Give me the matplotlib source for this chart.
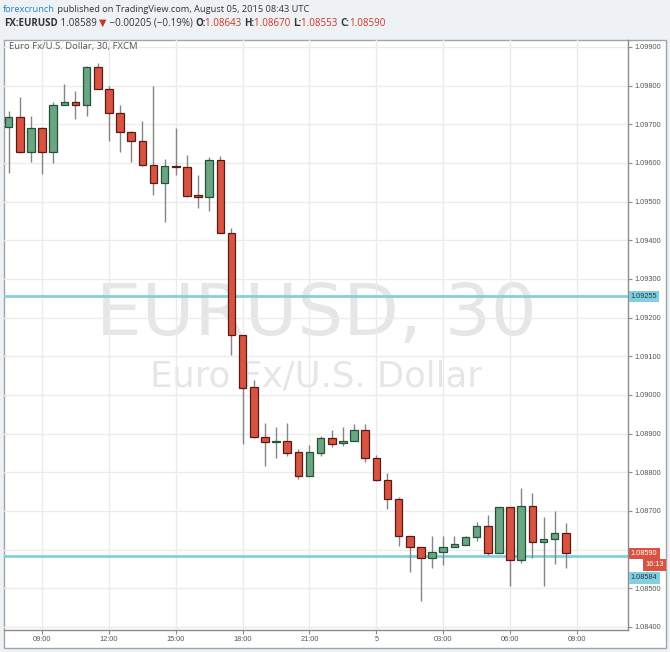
import matplotlib.pyplot as plt
from matplotlib.patches import Rectangle
import numpy as np

# EURUSD 30 min candles, 04 Aug 07:30 -> 05 Aug 08:30 (UTC)
opens = [1.09692, 1.09718, 1.09629, 1.09690, 1.09629, 1.09751, 1.09758, 1.09751, 1.09849, 1.09791,
         1.09730, 1.09681, 1.09656, 1.09594, 1.09547, 1.09592, 1.09589, 1.09515, 1.09513, 1.09607,
         1.09418, 1.09154, 1.09020, 1.08890, 1.08877, 1.08880, 1.08852, 1.08791, 1.08851, 1.08888,
         1.08875, 1.08881, 1.08909, 1.08836, 1.08779, 1.08730, 1.08635, 1.08606, 1.08579, 1.08594,
         1.08606, 1.08613, 1.08632, 1.08661, 1.08591, 1.08710, 1.08574, 1.08713, 1.08620, 1.08628,
         1.08643]
highs = [1.09734, 1.09770, 1.09722, 1.09692, 1.09757, 1.09803, 1.09787, 1.09852, 1.09858, 1.09799,
         1.09749, 1.09682, 1.09709, 1.09799, 1.09610, 1.09690, 1.09620, 1.09568, 1.09616, 1.09619,
         1.09433, 1.09155, 1.09039, 1.08928, 1.08918, 1.08928, 1.08860, 1.08870, 1.08894, 1.08909,
         1.08917, 1.08924, 1.08926, 1.08845, 1.08799, 1.08736, 1.08635, 1.08606, 1.08635, 1.08634,
         1.08634, 1.08635, 1.08672, 1.08690, 1.08710, 1.08710, 1.08760, 1.08746, 1.08684, 1.08701,
         1.08670]
lows = [1.09573, 1.09627, 1.09602, 1.09572, 1.09601, 1.09750, 1.09714, 1.09722, 1.09790, 1.09658,
        1.09629, 1.09602, 1.09593, 1.09517, 1.09446, 1.09570, 1.09513, 1.09484, 1.09476, 1.09419,
        1.09103, 1.08873, 1.08889, 1.08815, 1.08838, 1.08842, 1.08782, 1.08791, 1.08842, 1.08866,
        1.08868, 1.08881, 1.08827, 1.08778, 1.08705, 1.08610, 1.08543, 1.08468, 1.08553, 1.08559,
        1.08606, 1.08613, 1.08623, 1.08586, 1.08590, 1.08507, 1.08566, 1.08578, 1.08507, 1.08563,
        1.08553]
closes = [1.09718, 1.09629, 1.09690, 1.09629, 1.09751, 1.09758, 1.09751, 1.09849, 1.09791, 1.09730,
          1.09681, 1.09656, 1.09594, 1.09547, 1.09592, 1.09589, 1.09515, 1.09512, 1.09607, 1.09420,
          1.09154, 1.09019, 1.08890, 1.08878, 1.08880, 1.08851, 1.08791, 1.08852, 1.08888, 1.08874,
          1.08882, 1.08909, 1.08836, 1.08779, 1.08730, 1.08634, 1.08606, 1.08579, 1.08594, 1.08606,
          1.08614, 1.08633, 1.08661, 1.08591, 1.08710, 1.08574, 1.08713, 1.08620, 1.08628, 1.08643,
          1.08590]

x_tick_hours = [0, 3, 6, 9, 12, 15, 18, 21, 24]   # hours after 04 Aug 09:00
x_tick_labels = ['09:00', '12:00', '15:00', '18:00', '21:00', '5', '03:00', '06:00', '09:00']
y_ticks = [1.084, 1.085, 1.086, 1.087, 1.088, 1.089, 1.090, 1.091, 1.092, 1.093,
           1.094, 1.095, 1.096, 1.097, 1.098, 1.099]
levels = [1.09255, 1.08584]
last_price = 1.08590
countdown = '16:13'

up_face, up_edge = '#6ba583', '#225437'
dn_face, dn_edge = '#d75442', '#5b1a13'
cyan = '#84cfdf'
grid_c = '#ebebeb'
txt_c = '#555555'
narrow = ['Liberation Sans Narrow', 'Open Sans', 'DejaVu Sans']

fig = plt.figure(figsize=(6.7, 6.52), dpi=100, facecolor='#eff2f5')
W, H = 670, 652
fig.patches.append(Rectangle((4 / W, 4 / H), 662 / W, 608 / H, transform=fig.transFigure,
                             facecolor='white', edgecolor='#a0a4a8', linewidth=1, zorder=-5))

ax = fig.add_axes([4 / W, 22 / H, 624 / W, 590 / H])
ax.patch.set_alpha(0)

o = np.array(opens); h = np.array(highs); l = np.array(lows); c = np.array(closes)
t = -1.5 + 0.5 * np.arange(len(o))
up = c >= o

# watermark
ax.text(0.5, (652 - 335 - 22) / 590, 'EURUSD, 30', transform=ax.transAxes, ha='center',
        va='baseline', fontsize=52, color='#e6e6e6', family='DejaVu Sans', zorder=0)
ax.text(0.5, (652 - 386 - 22) / 590, 'Euro Fx/U.S. Dollar', transform=ax.transAxes, ha='center',
        va='baseline', fontsize=25.5, color='#e6e6e6', family='DejaVu Sans', zorder=0)

for lv in levels:
    ax.axhline(lv, color=cyan, lw=2, zorder=2)

ax.vlines(t, l, h, color='#858585', lw=1, zorder=3)
body = np.maximum(np.abs(c - o), 0.00004)
ax.bar(t[up], body[up], bottom=np.minimum(o, c)[up], width=0.34, color=up_face,
       edgecolor=up_edge, linewidth=0.9, zorder=4)
ax.bar(t[~up], body[~up], bottom=np.minimum(o, c)[~up], width=0.34, color=dn_face,
       edgecolor=dn_edge, linewidth=0.9, zorder=4)

ax.set_xlim(-1.705, 26.29)
ax.set_ylim(1.08392, 1.09918)
ax.set_xticks(x_tick_hours)
ax.set_xticklabels(x_tick_labels)
ax.set_yticks(y_ticks)
# the 1.08600 label sits under the last price tag
ax.set_yticklabels(['' if abs(v - last_price) < 0.0003 else f'{v:.5f}' for v in y_ticks])
ax.yaxis.tick_right()
ax.grid(True, color=grid_c, lw=1, zorder=1)
ax.set_axisbelow(True)
for s in ['top', 'left']:
    ax.spines[s].set_visible(False)
for s in ['right', 'bottom']:
    ax.spines[s].set_color('#8c8c8c')
    ax.spines[s].set_linewidth(1)
ax.tick_params(axis='both', colors='#8c8c8c', labelcolor=txt_c, labelsize=5.3, length=3,
               width=0.8, pad=1.5)
for lab in ax.get_xticklabels() + ax.get_yticklabels():
    lab.set_family('Liberation Sans')


# price labels on the right scale
def price_tag(y, text, fc, tc, dy=0):
    ax.annotate(text, xy=(1.0, y), xycoords=('axes fraction', 'data'),
                xytext=(2, dy), textcoords='offset points', ha='left', va='center',
                fontsize=5.3, color=tc, family='Liberation Sans', annotation_clip=False,
                bbox=dict(boxstyle='square,pad=0.3', fc=fc, ec='none'), zorder=10)


price_tag(levels[0], f'{levels[0]:.5f}', cyan, '#1e3a44')
price_tag(last_price, f'{last_price:.5f}', dn_face, 'white')
ax.annotate(countdown, xy=(1.0, last_price), xycoords=('axes fraction', 'data'),
            xytext=(19, -8.3), textcoords='offset points', ha='center', va='center',
            fontsize=5.3, color='white', family='Liberation Sans', annotation_clip=False,
            bbox=dict(boxstyle='square,pad=0.3', fc=dn_face, ec='none'), zorder=10)
price_tag(levels[1], f'{levels[1]:.5f}', cyan, '#1e3a44', dy=-16)

# chart title
fig.text(9 / W, 1 - 47 / H, 'Euro Fx/U.S. Dollar, 30, FXCM', ha='left', va='center',
         fontsize=6.8, color=txt_c, family=narrow)


# header lines, pieces placed one after another
def header(pieces, x_px, y_px, size):
    x = x_px
    renderer = fig.canvas.get_renderer()
    for s, col, wt in pieces:
        tx = fig.text(x / W, 1 - y_px / H, s, ha='left', va='center', fontsize=size,
                      color=col, weight=wt, family=narrow)
        x += tx.get_window_extent(renderer).width


red = '#c9352b'
dark = '#333333'
header([('forexcrunch', '#2584c6', 'normal'),
        (' published on TradingView.com, August 05, 2015 08:43 UTC', dark, 'normal')], 3, 9, 6.7)
header([('FX:EURUSD', dark, 'bold'), (' 1.08589 ', dark, 'normal'), ('▼', red, 'normal'),
        (' \u22120.00205 (\u22120.19%) ', dark, 'normal'),
        ('O:', dark, 'bold'), ('1.08643 ', red, 'normal'),
        ('H:', dark, 'bold'), ('1.08670 ', red, 'normal'),
        ('L:', dark, 'bold'), ('1.08553 ', red, 'normal'),
        ('C:', dark, 'bold'), ('1.08590', red, 'normal')], 4, 23, 7.0)

fig.savefig('out.png', dpi=100, facecolor=fig.get_facecolor())
